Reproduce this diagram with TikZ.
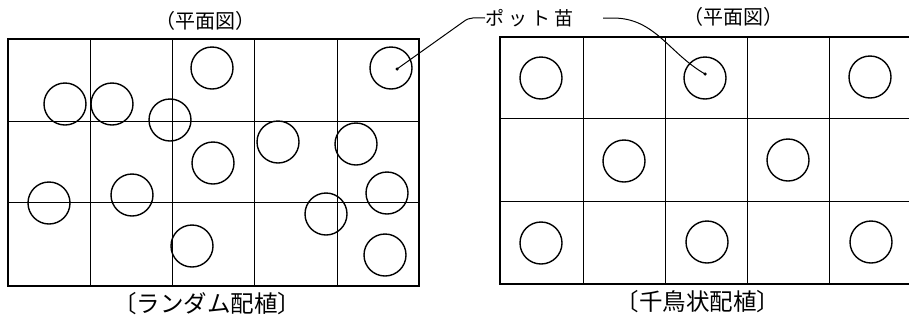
\documentclass[tikz,border=0pt]{standalone}
\usepackage{fontspec}
\newfontfamily\jp{Noto Sans CJK JP}
\newcommand\titlefnt{\jp\fontsize{20pt}{20pt}\selectfont}
\newcommand\capfnt{\jp\fontsize{23.5pt}{24pt}\selectfont}
\newcommand\labfnt{\jp\fontsize{19pt}{19pt}\selectfont}
\begin{document}
\begin{tikzpicture}[x=1pt,y=-1pt,
  frame/.style={line width=2.6pt,line cap=rect},
  gridline/.style={line width=1pt},
  pot/.style={circle,draw,line width=1.4pt,minimum size=42pt,inner sep=0pt},
  potdot/.style={circle,fill,inner sep=0pt,minimum size=3.5pt},
  leader/.style={line width=1pt},
  title/.style={font=\titlefnt,inner sep=0pt},
  caption/.style={font=\capfnt,inner sep=0pt}]
\useasboundingbox (0,0) rectangle (909,322);
% ---------- left: random planting ----------
\foreach \x in {90,172,254,337} \draw[gridline] (\x,39) -- (\x,286);
\foreach \y in {121,202} \draw[gridline] (8,\y) -- (419,\y);
\draw[frame] (8,39) rectangle (419,286);
\node[pot] (a1) at (212,68) {};
\node[pot] (a2) at (391,68) {};
\node[pot] (a3) at (65,104) {};
\node[pot] (a4) at (112,104) {};
\node[pot] (a5) at (170,120) {};
\node[pot] (a6) at (213,163) {};
\node[pot] (a7) at (278,142) {};
\node[pot] (a8) at (356,144) {};
\node[pot] (a9) at (49,203) {};
\node[pot] (a10) at (132,195) {};
\node[pot] (a11) at (387,193) {};
\node[pot] (a12) at (326,214) {};
\node[pot] (a13) at (192,246) {};
\node[pot] (a14) at (385,255) {};
\node[potdot] (dl) at (397,69) {};
\node[title] (t1) at (205,21) {（平面図）};
\node[caption] (c1) at (207,304) {〔ランダム配植〕};
% ---------- right: staggered planting ----------
\foreach \x in {583,665,747,829} \draw[gridline] (\x,37) -- (\x,284);
\foreach \y in {118,201} \draw[gridline] (500,\y) -- (909,\y);
\draw[frame] (912,37) -- (500,37) -- (500,284) -- (912,284);
\node[pot] (b1) at (541,78) {};
\node[pot] (b2) at (705,78) {};
\node[pot] (b3) at (870,77) {};
\node[pot] (b4) at (624,161) {};
\node[pot] (b5) at (788,160) {};
\node[pot] (b6) at (541,243) {};
\node[pot] (b7) at (707,242) {};
\node[pot] (b8) at (871,242) {};
\node[potdot] (dr) at (705,74) {};
\node[title] (t2) at (733,17) {（平面図）};
\node[caption] (c2) at (698,302) {〔千鳥状配植〕};
% ---------- label ----------
\node[font=\labfnt,inner sep=0pt,anchor=west] (lab) at (485,18) {ポ\hspace{4pt}ッ\hspace{4pt}ト\hspace{4pt}苗};
\coordinate (rs) at (603,18);
\draw[leader] (dl.center) -- (463,22) to[out=40,in=180] (lab.west);
\draw[leader] (rs) -- (613,18) to[out=0,in=150] (dr.center);
\end{tikzpicture}
\end{document}
